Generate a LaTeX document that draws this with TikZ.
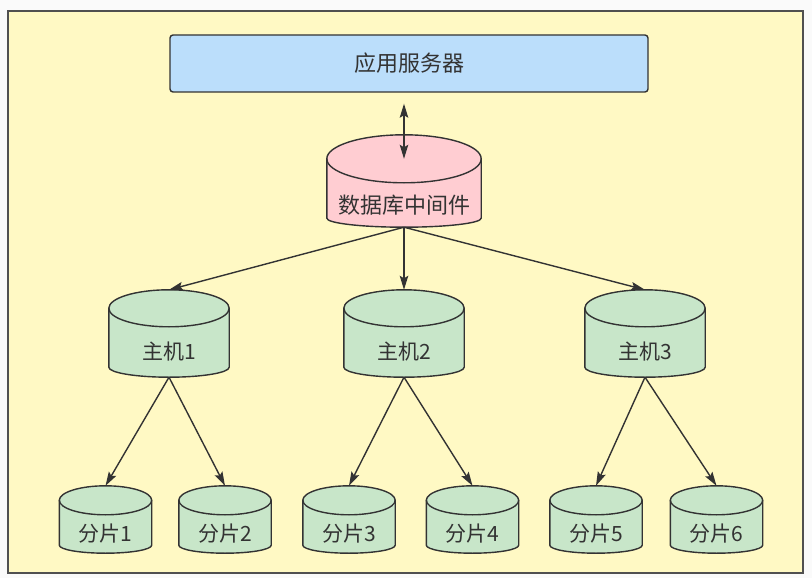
\documentclass[tikz,border=0pt]{standalone}
\usepackage{fontspec}
\setmainfont{Noto Sans CJK SC}
\usetikzlibrary{arrows.meta,calc,backgrounds}

\definecolor{pagegray}{HTML}{FAFAFA}
\definecolor{framegray}{HTML}{505050}
\definecolor{bgyellow}{HTML}{FFF9C4}
\definecolor{appblue}{HTML}{BBDEFB}
\definecolor{dbpink}{HTML}{FFCDD2}
\definecolor{dbgreen}{HTML}{C8E6C9}
\definecolor{linegray}{HTML}{333333}

\tikzset{
  line/.style={draw=linegray, line width=1.4pt},
  tip/.tip={Stealth[length=14pt,width=8.5pt,inset=2.5pt]},
  conn/.style={line, -tip},
  both/.style={line, tip-tip},
  body/.style={inner sep=0pt, text=linegray, font=\fontsize{21}{24}\selectfont},
  appbox/.style={line, fill=appblue, rounded corners=3pt, inner sep=0pt,
    text=linegray, font=\fontsize{22}{26}\selectfont},
}

\begin{document}
\begin{tikzpicture}[x=1pt,y=-1pt]
		\useasboundingbox (0,0) rectangle (812,578);
		\begin{pgfonlayer}{background}
		\fill[pagegray] (0,0) rectangle (812,578);
		\draw[draw=framegray, line width=2pt, fill=bgyellow] (8,11) rectangle (803,573);
		\end{pgfonlayer}

		% server and middleware
		\node[appbox, minimum width=478pt, minimum height=57pt] (app) at (409,63.5) {应用服务器};
		\node[body, font=\fontsize{22}{26}\selectfont, minimum width=154pt, minimum height=44pt] (mid) at (404,205) {数据库中间件};

		% hosts and shards
		\foreach \n/\x in {1/169,2/404,3/645}
			\node[body, minimum width=120pt, minimum height=50pt] (h\n) at (\x,352) {主机\n};
		\foreach \n/\x in {1/105.5,2/225,3/349,4/472.5,5/596,6/716.5}
			\node[body, minimum width=92pt, minimum height=38pt] (s\n) at (\x,534) {分片\n};

		% cylinder bodies behind the labels
		\begin{pgfonlayer}{background}
		\foreach \nm/\rt/\rb/\col in {mid/24/9/dbpink, h1/18.5/10/dbgreen, h2/18.5/10/dbgreen, h3/18.5/10/dbgreen,
			s1/14.5/8/dbgreen, s2/14.5/8/dbgreen, s3/14.5/8/dbgreen, s4/14.5/8/dbgreen, s5/14.5/8/dbgreen, s6/14.5/8/dbgreen}{
			\path[line, fill=\col] let \p1=(\nm.north west), \p2=(\nm.north east), \n1={abs(\x2-\x1)/2} in
				([yshift=\rt pt]\nm.north west) -- ([yshift=\rb pt]\nm.south west)
				arc[start angle=180, end angle=360, x radius=\n1, y radius=\rb pt]
				-- ([yshift=\rt pt]\nm.north east)
				arc[start angle=0, end angle=180, x radius=\n1, y radius=\rt pt] -- cycle;
			\path[line] let \p1=(\nm.north west), \p2=(\nm.north east), \n1={abs(\x2-\x1)/2} in
				([yshift=\rt pt]\nm.north west) arc[start angle=180, end angle=360, x radius=\n1, y radius=\rt pt];
			\coordinate (\nm-top) at ([yshift=2*\rt pt]\nm.north);
			\coordinate (\nm-ctr) at ([yshift=\rt pt]\nm.north);
		}
		\end{pgfonlayer}

		% connectors
		\draw[both] ([yshift=-11pt]app.south -| mid.north) -- (mid-ctr);
		\foreach \n in {1,2,3}
			\draw[conn] (mid.south) -- (h\n-top);
		\draw[conn] (h1.south) -- (s1-top);
		\draw[conn] (h1.south) -- (s2-top);
		\draw[conn] (h2.south) -- (s3-top);
		\draw[conn] (h2.south) -- (s4-top);
		\draw[conn] (h3.south) -- (s5-top);
		\draw[conn] (h3.south) -- (s6-top);
\end{tikzpicture}
\end{document}
